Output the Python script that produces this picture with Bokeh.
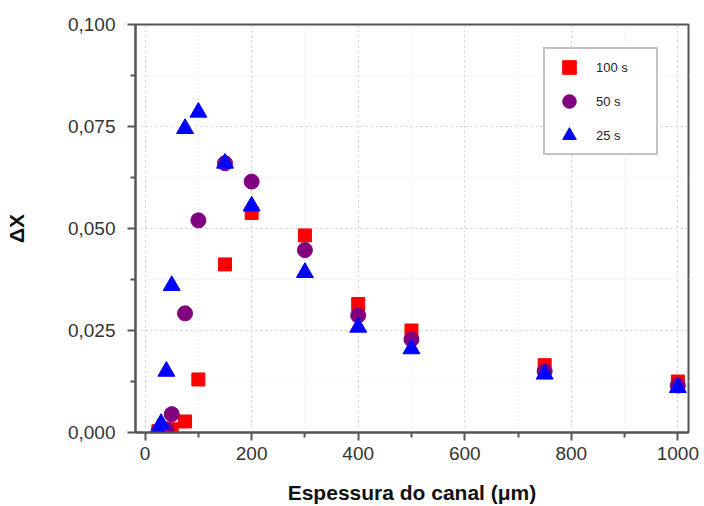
from bokeh.plotting import figure
from bokeh.models import (Range1d, FixedTicker, CustomJSTickFormatter, Legend, LegendItem)
from bokeh.embed import file_html
from bokeh.resources import INLINE

# data
x_100 = [25, 40, 50, 75, 100, 150, 200, 300, 400, 500, 750, 1000]
y_100 = [0.0003, 0.0005, 0.0008, 0.0027, 0.0130, 0.0412, 0.0538, 0.0483, 0.0315, 0.0250, 0.0165, 0.0125]
x_50 = [25, 40, 50, 75, 100, 150, 200, 300, 400, 500, 750, 1000]
y_50 = [0.0002, 0.0008, 0.0045, 0.0292, 0.0520, 0.0660, 0.0615, 0.0447, 0.0287, 0.0228, 0.0150, 0.0115]
x_25 = [25, 30, 40, 50, 75, 100, 150, 200, 300, 400, 500, 750, 1000]
y_25 = [0.0005, 0.0022, 0.0150, 0.0360, 0.0745, 0.0785, 0.0660, 0.0555, 0.0392, 0.0258, 0.0205, 0.0143, 0.0110]

x_major = [0, 200, 400, 600, 800, 1000]
x_minor = [100, 300, 500, 700, 900]
y_major = [0.0, 0.025, 0.05, 0.075, 0.1]
y_minor = [0.0125, 0.0375, 0.0625, 0.0875]

FONT = "Liberation Sans"

p = figure(output_backend="svg", toolbar_location=None,
           frame_width=553, frame_height=408,
           min_border_left=135, min_border_top=24, min_border_right=12, min_border_bottom=72,
           x_range=Range1d(-18, 1020), y_range=Range1d(0, 0.1))
p.background_fill_color = "white"
p.border_fill_color = "white"
p.outline_line_color = "#555555"
p.outline_line_width = 2

for ax in (p.xaxis[0], p.yaxis[0]):
    ax.axis_line_color = "#555555"
    ax.axis_line_width = 2
    ax.major_tick_line_color = "#555555"
    ax.minor_tick_line_color = "#555555"
    ax.major_tick_line_width = 2
    ax.minor_tick_line_width = 2
    ax.major_tick_out = 8
    ax.major_tick_in = 0
    ax.minor_tick_out = 5
    ax.minor_tick_in = 0
    ax.major_label_text_font = FONT
    ax.major_label_text_font_size = "19px"
    ax.major_label_text_color = "#333333"
    ax.axis_label_text_font = FONT
    ax.axis_label_text_font_style = "bold"
    ax.axis_label_text_font_size = "21px"
    ax.axis_label_text_color = "#111111"

p.xaxis.ticker = FixedTicker(ticks=x_major, minor_ticks=x_minor)
p.yaxis.ticker = FixedTicker(ticks=y_major, minor_ticks=y_minor)
p.yaxis.formatter = CustomJSTickFormatter(code="return tick.toFixed(3).replace('.', ',');")
p.xaxis.major_label_standoff = 6
p.yaxis.major_label_standoff = 12
p.xaxis.axis_label = "Espessura do canal (\u03bcm)"
p.yaxis.axis_label = "\u0394X"
p.xaxis.axis_label_standoff = 18
p.yaxis.axis_label_standoff = 37

for g in (p.xgrid[0], p.ygrid[0]):
    g.grid_line_color = "#cfcfcf"
    g.grid_line_dash = "2 3"
    g.minor_grid_line_color = "#e2e2e2"
    g.minor_grid_line_dash = "1 3"

r100 = p.scatter(x_100, y_100, marker="square", size=13, fill_color="#ff0000", line_color="#ff0000")
r50 = p.scatter(x_50, y_50, marker="circle", size=15, fill_color="#800080", line_color="#800080")
r25 = p.scatter(x_25, y_25, marker="triangle", size=17, fill_color="#0000ff", line_color="#0000ff")

legend = Legend(items=[LegendItem(label="100 s", renderers=[r100]),
                       LegendItem(label="50 s", renderers=[r50]),
                       LegendItem(label="25 s", renderers=[r25])],
                location=(408, 277), orientation="vertical",
                glyph_width=46, glyph_height=34, label_height=34, label_width=59,
                label_standoff=4, spacing=0, padding=1, margin=0,
                border_line_color="#888888", border_line_width=2,
                background_fill_color="white", background_fill_alpha=1,
                label_text_font=FONT, label_text_font_size="13px", label_text_color="#222222")
p.add_layout(legend, "center")

open("out.html", "w").write(file_html(p, INLINE))
